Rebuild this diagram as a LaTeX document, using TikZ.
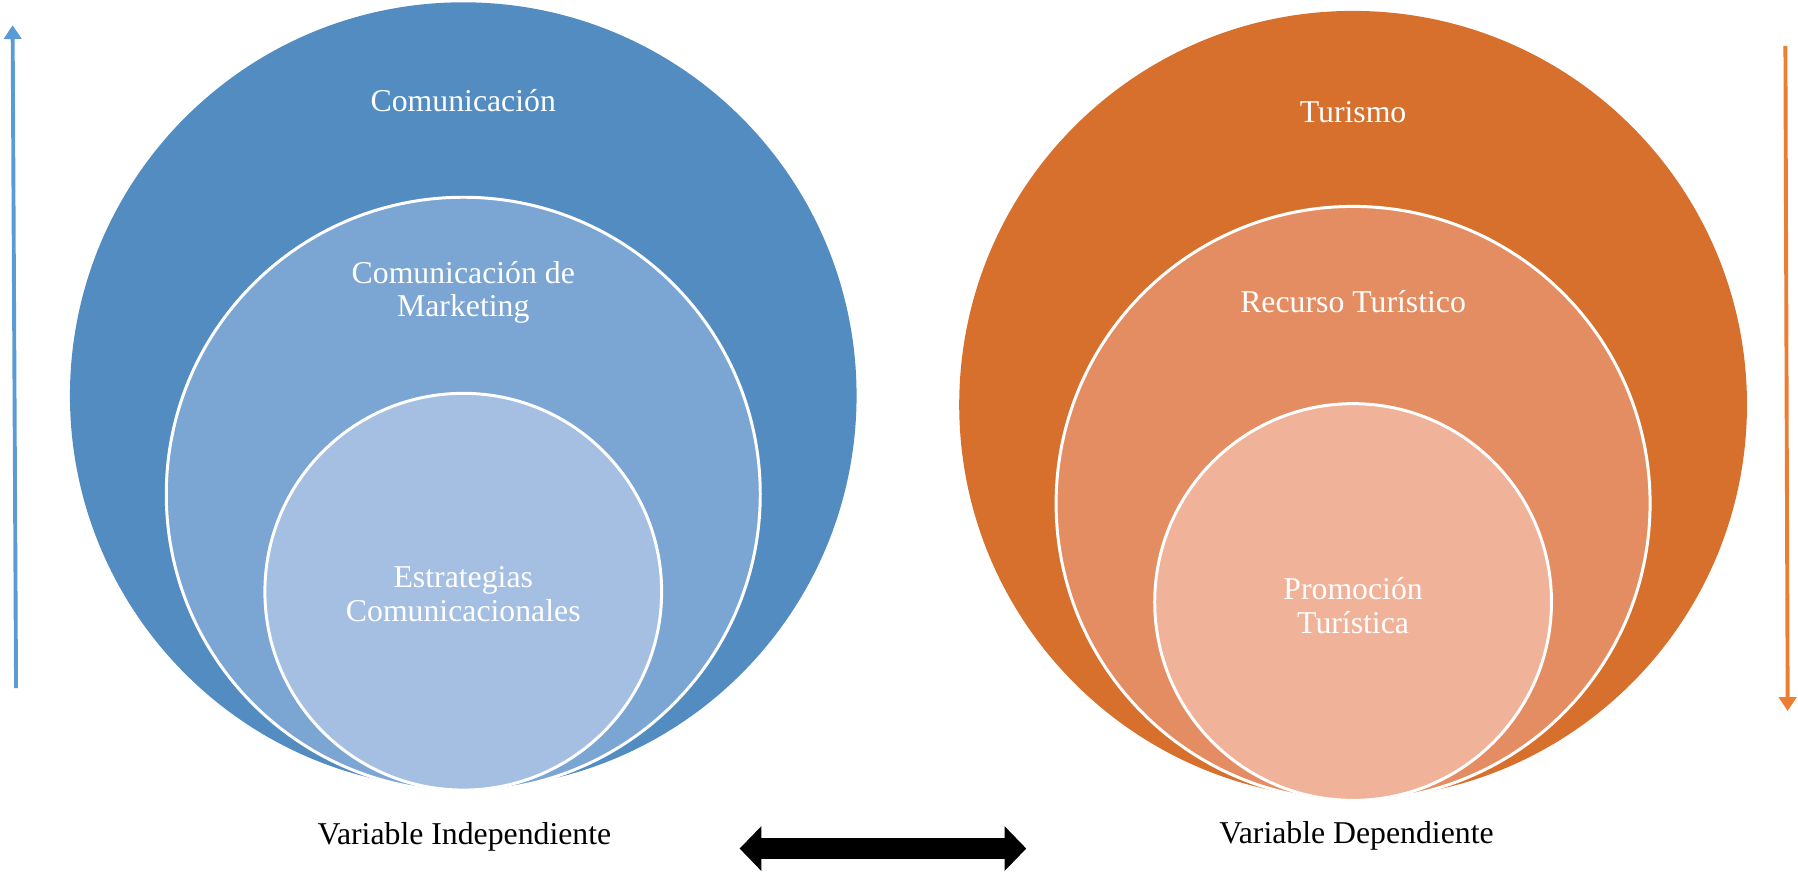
\documentclass[tikz,border=0pt]{standalone}
\usepackage{fontspec}
\setmainfont{Liberation Serif}
\usetikzlibrary{arrows.meta}
\definecolor{bluedark}{HTML}{538CC1}
\definecolor{bluemid}{HTML}{7BA5D2}
\definecolor{bluelight}{HTML}{A5BFE3}
\definecolor{orgdark}{HTML}{D8702D}
\definecolor{orgmid}{HTML}{E58D62}
\definecolor{orglight}{HTML}{F1B29A}
\definecolor{arrowblue}{HTML}{5B9BD5}
\definecolor{arroworange}{HTML}{ED7D31}
\tikzset{
  disc/.style={circle, inner sep=0pt, outer sep=0pt, minimum size=#1*0.5pt},
  ring/.style={disc=#1, draw=white, line width=1.3pt},
  lbl/.style={text=white, align=center, inner sep=0pt, font=\fontsize{13.85}{14.6}\selectfont},
  captxt/.style={text=black, inner sep=0pt, font=\fontsize{13.85}{14.6}\selectfont},
  thinarrow/.style={line width=1.7pt, -{Triangle[length=6pt,width=7.5pt]}},
  bigarrow/.style={line width=9pt, {Triangle[length=9.5pt,width=19pt]}-{Triangle[length=9.5pt,width=19pt]}}
}
\begin{document}
\begin{tikzpicture}[x=0.5pt,y=-0.5pt]
\useasboundingbox (0,0) rectangle (1568,762);
% left (blue) set
\node[disc=686, fill=bluedark] (b1) at (404,345) {};
\node[ring=518, fill=bluemid] (b2) at (404,431) {};
\node[ring=346, fill=bluelight] (b3) at (404,516) {};
\node[lbl] (tb1) at (404,88) {Comunicación};
\node[lbl] (tb2) at (404,255) {Comunicación de\\Marketing};
\node[lbl] (tb3) at (404,518) {Estrategias\\Comunicacionales};
% right (orange) set
\node[disc=687, fill=orgdark] (o1) at (1180,353) {};
\node[ring=518, fill=orgmid] (o2) at (1180,439) {};
\node[ring=346, fill=orglight] (o3) at (1180,525) {};
\node[lbl] (to1) at (1180,98) {Turismo};
\node[lbl] (to2) at (1180,263) {Recurso Turístico};
\node[lbl] (to3) at (1180,528) {Promoción\\Turística};
% captions
\node[captxt] (vi) at (405,730) {Variable Independiente};
\node[captxt] (vd) at (1183,729) {Variable Dependiente};
% arrows
\coordinate (ba) at (14,600);
\coordinate (bb) at (11,22);
\draw[arrowblue, thinarrow] (ba) -- (bb);
\coordinate (oa) at (1557,40);
\coordinate (ob) at (1559,620);
\draw[arroworange, thinarrow] (oa) -- (ob);
\coordinate (dl) at (645,740);
\coordinate (dr) at (895,740);
\draw[black, bigarrow] (dl) -- (dr);
\end{tikzpicture}
\end{document}
